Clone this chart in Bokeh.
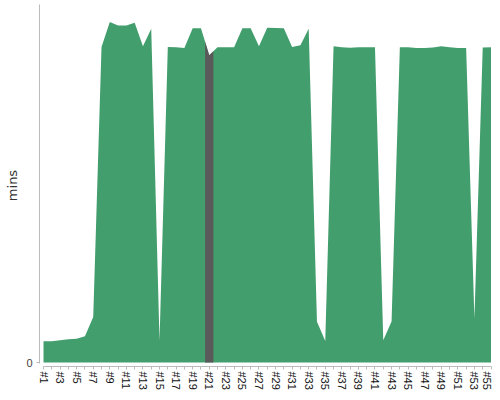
import numpy as np
from bokeh.plotting import figure
from bokeh.models import FixedTicker, Range1d
from bokeh.embed import file_html
from bokeh.resources import INLINE

# ---- data -------------------------------------------------------------
runs = [f"#{i}" for i in range(1, 56)]
mins = [21.3, 21.5, 22.3, 23.3, 24.0, 26.3, 45.7, 317.3, 342.3, 339.0,
        339.0, 341.7, 318.0, 335.7, 22.0, 317.3, 317.0, 316.3, 336.0, 336.0,
        309.0, 317.0, 317.0, 317.0, 336.0, 336.0, 318.0, 336.5, 336.3, 336.0,
        317.3, 319.0, 335.7, 41.0, 21.7, 318.0, 317.0, 316.5, 317.0, 317.0,
        317.0, 22.3, 41.3, 317.0, 317.0, 316.3, 316.3, 316.7, 318.0, 317.0,
        316.3, 316.3, 44.0, 316.7, 317.0]
highlight_run = "#21"
y_label = "mins"

# ---- figure -----------------------------------------------------------
x = np.arange(1, len(runs) + 1)
y = np.array(mins)

p = figure(width=492, height=392, output_backend="svg", toolbar_location=None,
           x_range=Range1d(0.517, 55.06), y_range=Range1d(-4, 360),
           min_border_left=39, min_border_right=1, min_border_top=4,
           min_border_bottom=23)

p.varea(x=x, y1=0, y2=y, fill_color="#439e6e")

hi = runs.index(highlight_run) + 1
hx = np.array([hi - 0.5, hi, hi + 0.5])
hy = np.interp(hx, x, y)
p.varea(x=hx, y1=0, y2=hy, fill_color="#5a5a5a")

p.grid.visible = False
p.outline_line_color = None
p.background_fill_color = "white"
p.border_fill_color = "white"

xa = p.xaxis[0]
xa.ticker = FixedTicker(ticks=list(x))
xa.major_label_overrides = {int(i): (runs[i - 1] if i % 2 == 1 else "") for i in x}
xa.major_label_orientation = "vertical"
xa.major_label_text_font = "Liberation Sans"
xa.major_label_text_font_size = "11px"
xa.major_label_text_color = "#111111"
xa.major_label_standoff = 2
xa.axis_label_standoff = 0
xa.axis_line_color = "#bbbbbb"
xa.major_tick_line_color = "#bbbbbb"
xa.major_tick_out = 3
xa.major_tick_in = 0
xa.minor_tick_line_color = None
xa.bounds = (1, 55)

ya = p.yaxis[0]
ya.ticker = FixedTicker(ticks=[0])
ya.major_label_text_font = "Liberation Sans"
ya.major_label_text_font_size = "11px"
ya.major_label_text_color = "#444444"
ya.major_label_standoff = 4
ya.axis_line_color = "#bbbbbb"
ya.major_tick_line_color = "#bbbbbb"
ya.major_tick_out = 3
ya.major_tick_in = 0
ya.minor_tick_line_color = None
ya.bounds = (-0.5, 360)
ya.axis_label = y_label
ya.axis_label_text_font = "DejaVu Sans"
ya.axis_label_text_font_size = "13px"
ya.axis_label_text_font_style = "normal"
ya.axis_label_text_color = "#333333"
ya.axis_label_standoff = 3

open("out.html", "w").write(file_html(p, INLINE))
